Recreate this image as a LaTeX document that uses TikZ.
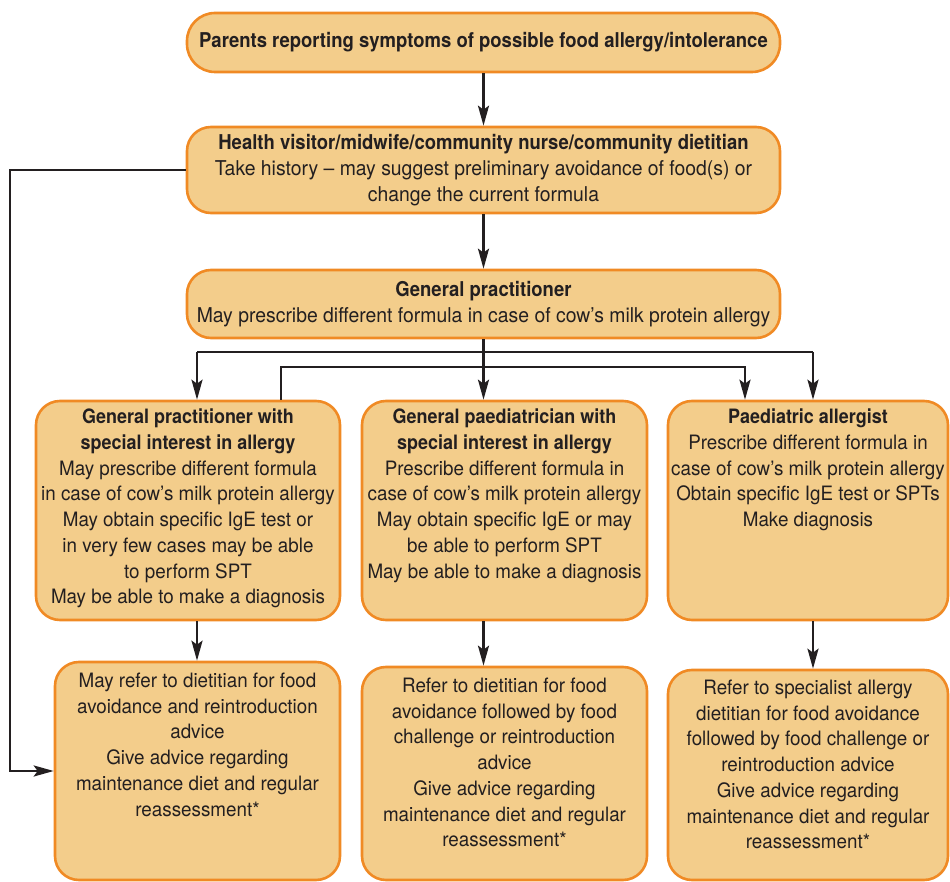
\documentclass[tikz,border=0pt]{standalone}
\usepackage{fontspec}
\setmainfont[FakeStretch=0.95]{TeX Gyre Heros}
\newfontfamily\headfont[FakeStretch=0.907]{TeX Gyre Heros}
\newcommand\hd[1]{{\headfont\bfseries #1}}
\usetikzlibrary{arrows.meta}
\definecolor{boxfill}{HTML}{F3CD8B}
\definecolor{boxline}{HTML}{F08A24}
\definecolor{ink}{HTML}{231F20}
\begin{document}
\begin{tikzpicture}
      [x=0.5pt,y=-0.5pt,
       box/.style={draw=boxline,fill=boxfill,line width=1.3pt,rounded corners=12pt,inner sep=0pt},
       txt/.style={align=center,text=ink,font=\fontsize{10.2}{12.85}\selectfont,inner sep=0pt},
       boxtxt/.style={txt,font=\fontsize{9.9}{12.85}\selectfont},
       arr/.style={-{Stealth[length=10pt,width=5.5pt,inset=2pt]},line width=1.35pt,draw=ink}]
      \useasboundingbox (0,0) rectangle (950,882);

      % top of the chain
      \node[box,txt,minimum width=296.5pt,minimum height=29.5pt,rounded corners=14pt] (parents) at (483.5,42.5)
        {\hd{Parents reporting symptoms of possible food allergy/intolerance}};
      \node[box,txt,minimum width=296.5pt,minimum height=43pt] (visitor) at (483.5,170)
        {\hd{Health visitor/midwife/community nurse/community dietitian}\\
         Take history – may suggest preliminary avoidance of food(s) or\\
         change the current formula};
      \node[box,txt,minimum width=296.5pt,minimum height=34pt] (gp) at (483.5,304)
        {\hd{General practitioner}\\
         May prescribe different formula in case of cow’s milk protein allergy};

      % second level
      \node[box,minimum width=152pt,minimum height=109.5pt] (gpsi) at (188,510.5) {};
      \node[box,minimum width=142.5pt,minimum height=109.5pt] (paed) at (504.5,510.5) {};
      \node[box,minimum width=140pt,minimum height=109.5pt] (allergist) at (808,510.5) {};
      \node[boxtxt,anchor=north] (gpsitext) at ([yshift=-4.5pt]gpsi.north)
        {\hd{General practitioner with}\\
         \hd{special interest in allergy}\\
         May prescribe different formula\\
         in case of cow’s milk protein allergy\\
         May obtain specific IgE test or\\
         in very few cases may be able\\
         to perform SPT\\
         May be able to make a diagnosis};
      \node[boxtxt,anchor=north] (paedtext) at ([yshift=-4.5pt]paed.north)
        {\hd{General paediatrician with}\\
         \hd{special interest in allergy}\\
         Prescribe different formula in\\
         case of cow’s milk protein allergy\\
         May obtain specific IgE or may\\
         be able to perform SPT\\
         May be able to make a diagnosis};
      \node[boxtxt,anchor=north] (allergisttext) at ([yshift=-4.5pt]allergist.north)
        {\hd{Paediatric allergist}\\
         Prescribe different formula in\\
         case of cow’s milk protein allergy\\
         Obtain specific IgE test or SPTs\\
         Make diagnosis};

      % advice boxes
      \node[box,minimum width=142.5pt,minimum height=109pt] (gpadv) at (197.5,771) {};
      \node[box,minimum width=142.5pt,minimum height=106.5pt] (paedadv) at (504.5,773.5) {};
      \node[box,minimum width=140pt,minimum height=105pt] (allergistadv) at (808,775) {};
      \node[boxtxt,anchor=north] (gpadvtext) at ([yshift=-6pt]gpadv.north)
        {May refer to dietitian for food\\
         avoidance and reintroduction\\
         advice\\
         Give advice regarding\\
         maintenance diet and regular\\
         reassessment*};
      \node[boxtxt,anchor=north] (paedadvtext) at ([yshift=-6pt]paedadv.north)
        {Refer to dietitian for food\\
         avoidance followed by food\\
         challenge or reintroduction\\
         advice\\
         Give advice regarding\\
         maintenance diet and regular\\
         reassessment*};
      \node[boxtxt,anchor=north] (allergistadvtext) at ([yshift=-5.5pt]allergistadv.north)
        {Refer to specialist allergy\\
         dietitian for food avoidance\\
         followed by food challenge or\\
         reintroduction advice\\
         Give advice regarding\\
         maintenance diet and regular\\
         reassessment*};

      % connectors
      \coordinate (jl) at (197,352);
      \coordinate (jr) at (813,352);
      \coordinate (ka) at (281,367);
      \coordinate (kc) at (745,367);
      \coordinate (loop) at (10,170);
      \draw[arr] (parents) -- (visitor);
      \draw[arr] (visitor) -- (gp);
      \draw[arr] (gp.south) -- (gp.south |- paed.north);
      \draw[line width=1.35pt,draw=ink] (jl) -- (jr);
      \draw[arr] (jl) -- (jl |- gpsi.north);
      \draw[arr] (jr) -- (jr |- allergist.north);
      \draw[arr] (ka |- gpsi.north) -- (ka) -- (kc) -- (kc |- allergist.north);
      \draw[arr] (jl |- gpsi.south) -- (jl |- gpadv.north);
      \draw[arr] (gp.south |- paed.south) -- (gp.south |- paedadv.north);
      \draw[arr] (jr |- allergist.south) -- (jr |- allergistadv.north);
      \draw[arr] (visitor.west) -- (loop) |- (gpadv.west);
    \end{tikzpicture}
\end{document}
